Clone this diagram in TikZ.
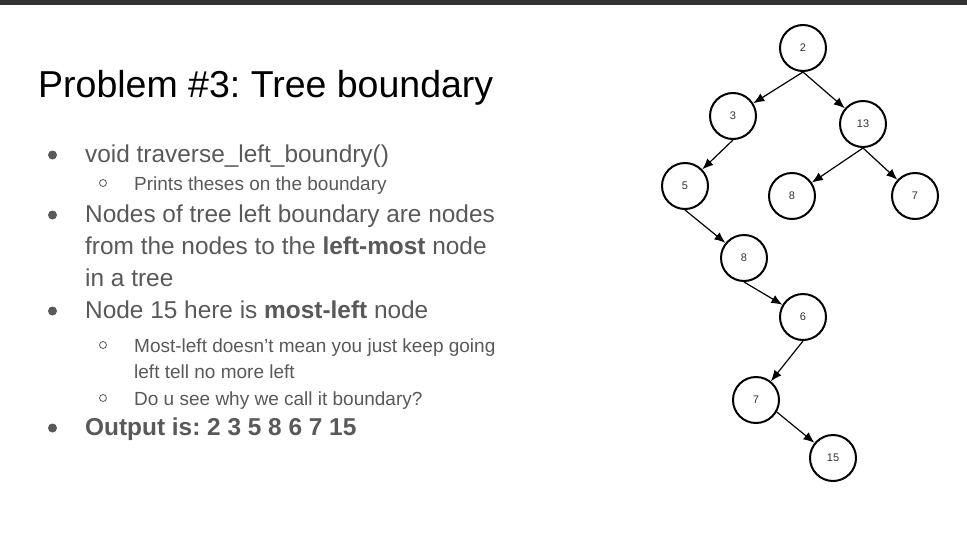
\documentclass[tikz,border=0pt]{standalone}
\usepackage{fontspec}
\setmainfont{Liberation Sans}
\usetikzlibrary{arrows.meta}
\definecolor{slidetext}{HTML}{595959}
\definecolor{barcolor}{HTML}{333333}
\definecolor{labelgray}{HTML}{333333}
\frenchspacing
\begin{document}
\begin{tikzpicture}[x=1pt,y=-1pt,
  title/.style={anchor=base west, inner sep=0pt, font=\fontsize{37.5}{45}\selectfont, text=black},
  item/.style={anchor=base west, inner sep=0pt, font=\fontsize{24.4}{29}\selectfont, text=slidetext},
  subitem/.style={anchor=base west, inner sep=0pt, font=\fontsize{19}{22}\selectfont, text=slidetext},
  dot/.style={circle, fill=slidetext, inner sep=0pt, minimum size=9pt},
  ring/.style={circle, draw=slidetext, line width=0.8pt, inner sep=0pt, minimum size=7pt},
  tnode/.style={circle, draw=black, line width=2pt, minimum size=46pt, inner sep=0pt,
    font=\fontsize{11}{13}\selectfont, text=labelgray},
  link/.style={-{Latex[length=11pt,width=9pt]}, line width=1.2pt}
]
% page and top bar
\fill[white] (0,0) rectangle (967,541);
\useasboundingbox (0,0) rectangle (967,541);
\fill[barcolor] (0,0) rectangle (967,5);

% title
\node[title] (title) at (38,97) {Problem \#3: Tree boundary};

% bullet list
\node[dot] (b1) at (52.5,155) {};
\node[item] (l1) at (85,162) {void traverse\_left\_boundry()};
\node[ring] (s1) at (103,183) {};
\node[subitem] (l2) at (134,190) {Prints theses on the boundary};
\node[dot] (b2) at (52.5,215) {};
\node[item] (l3) at (85,222) {Nodes of tree left boundary are nodes};
\node[item] (l4) at (85,254) {from the nodes to the \textbf{left-most} node};
\node[item] (l5) at (85,286) {in a tree};
\node[dot] (b3) at (52.5,311) {};
\node[item] (l6) at (85,318) {Node 15 here is \textbf{most-left} node};
\node[ring] (s2) at (103,345) {};
\node[subitem] (l7) at (134,352) {Most-left doesn’t mean you just keep going};
\node[subitem] (l8) at (134,378) {left tell no more left};
\node[ring] (s3) at (103,398) {};
\node[subitem] (l9) at (134,405) {Do u see why we call it boundary?};
\node[dot] (b4) at (52.5,428) {};
\node[item] (l10) at (85,435) {\textbf{Output is: 2 3 5 8 6 7 15}};

% tree
\node[tnode] (n2)  at (803,48)  {2};
\node[tnode] (n3)  at (733,116) {3};
\node[tnode] (n13) at (863,124) {13};
\node[tnode] (n5)  at (685,186) {5};
\node[tnode] (n8a) at (792,196) {8};
\node[tnode] (n7a) at (915,196) {7};
\node[tnode] (n8)  at (744,258) {8};
\node[tnode] (n6)  at (803,317) {6};
\node[tnode] (n7)  at (756,400) {7};
\node[tnode] (n15) at (833,458) {15};

\draw[link] (n2.south)  -- (n3);
\draw[link] (n2.south)  -- (n13);
\draw[link] (n3.south)  -- (n5);
\draw[link] (n13.south) -- (n8a);
\draw[link] (n13.south) -- (n7a);
\draw[link] (n5.south)  -- (n8);
\draw[link] (n8.south)  -- (n6);
\draw[link] (n6.south)  -- (n7);
\draw[link] (n7.-30)    -- (n15);
\end{tikzpicture}
\end{document}
